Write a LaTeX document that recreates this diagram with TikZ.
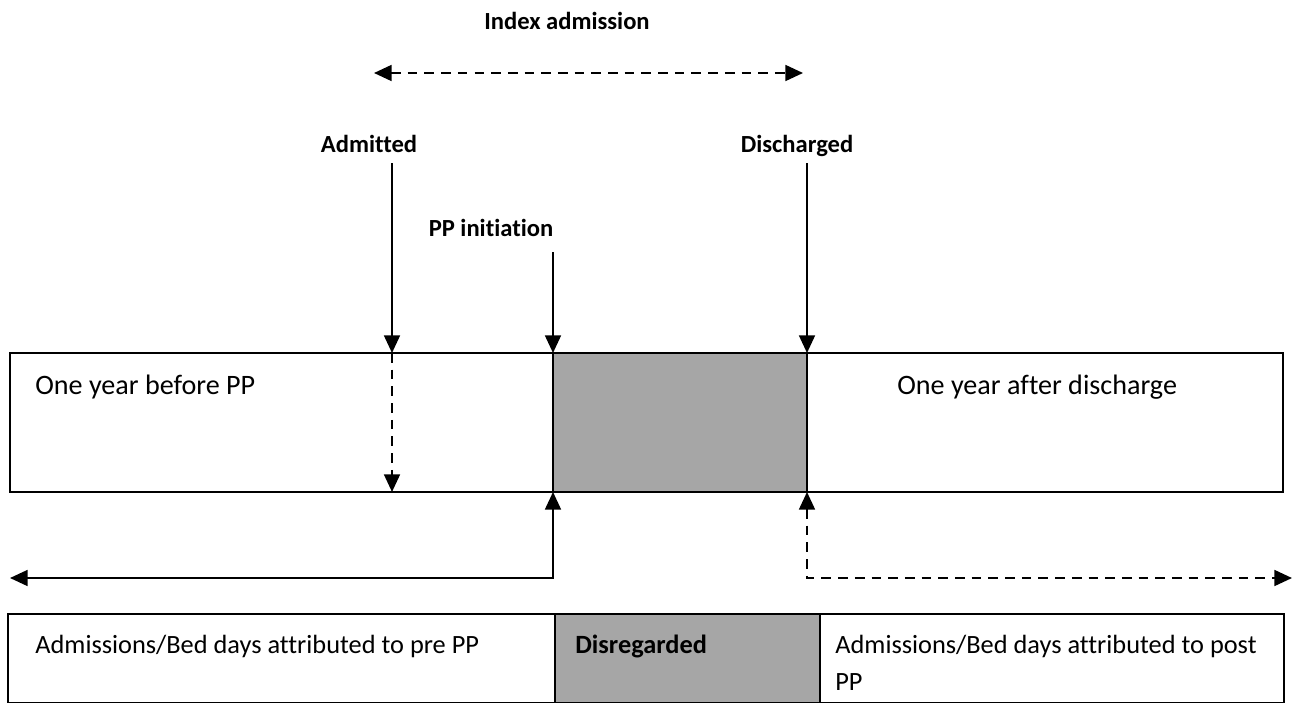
\documentclass[tikz,border=0pt]{standalone}
\usepackage{fontspec}
\setmainfont{Carlito}[Ligatures=NoCommon]
\usetikzlibrary{arrows,arrows.meta}
\usetikzlibrary{positioning}

\definecolor{shade}{HTML}{A6A6A6}

\tikzset{
  lbl/.style={font=\bfseries\fontsize{14}{17}\selectfont, anchor=base, inner sep=0pt},
  boxtxt/.style={font=\fontsize{16}{19}\selectfont, anchor=base west, inner sep=0pt},
  tbltxt/.style={font=\fontsize{15}{22}\selectfont, anchor=base west, inner sep=0pt, align=left},
  cell/.style={draw, line width=1.1pt, anchor=north west, inner sep=0pt, outer sep=0pt},
  arr/.style={line width=1.2pt, -{Triangle[length=10pt,width=9pt]}},
  dashline/.style={dash pattern=on 5.5pt off 4pt}
}

\begin{document}
\begin{tikzpicture}[x=0.02cm,y=-0.02cm]
    \useasboundingbox (0,0) rectangle (1295,703);
    % time line
    \node[cell, minimum width=10.86cm, minimum height=2.78cm] (pre) at (10,353) {};
    \node[cell, fill=shade, minimum width=5.08cm, minimum height=2.78cm] (gap) at (553,353) {};
    \node[cell, minimum width=9.52cm, minimum height=2.78cm] (post) at (807,353) {};
    \node[boxtxt] (pretxt) at (35,394) {One year before PP};
    \node[boxtxt] (posttxt) at (897,394) {One year after discharge};

    % events
    \coordinate (tA) at (392,353);
    \coordinate (tP) at (553,353);
    \coordinate (tD) at (807,353);
    \node[lbl] (index) at (567,30) {Index admission};
    \node[lbl] (adm) at (369,152) {Admitted};
    \node[lbl] (dis) at (797,152) {Discharged};
    \node[lbl] (init) at (491,236) {PP initiation};
    \coordinate (iL) at (374,73);
    \coordinate (iR) at (803,73);
    \draw[arr, dashline, {Triangle[length=10pt,width=9pt]}-{Triangle[length=10pt,width=9pt]}] (iL) -- (iR);
    \draw[arr] (tA |- 0,163) -- (tA);
    \draw[arr] (tD |- 0,163) -- (tD);
    \draw[arr] (tP |- 0,252) -- (tP);
    \draw[arr, dashline] (tA) -- (tA |- pre.south);

    % attribution
    \coordinate (preEnd) at (10,578);
    \coordinate (postEnd) at (1292,578);
    \draw[arr, {Triangle[length=10pt,width=9pt]}-{Triangle[length=10pt,width=9pt]}] (preEnd) -- (tP |- preEnd) -- (tP |- pre.south);
    \draw[arr, dashline, {Triangle[length=10pt,width=9pt]}-{Triangle[length=10pt,width=9pt]}] (tD |- post.south) -- (tD |- postEnd) -- (postEnd);

    % table
    \node[cell, minimum width=10.94cm, minimum height=1.78cm] (tpre) at (8,614) {};
    \node[cell, fill=shade, minimum width=5.3cm, minimum height=1.78cm] (tgap) at (555,614) {};
    \node[cell, minimum width=9.28cm, minimum height=1.78cm] (tpost) at (820,614) {};
    \node[tbltxt] (tpretxt) at (35,653) {Admissions/Bed days attributed to pre PP};
    \node[tbltxt, font=\bfseries\fontsize{15}{22}\selectfont] (tgaptxt) at (575,653) {Disregarded};
    \node[tbltxt] (tposttxt) at (835,653) {Admissions/Bed days attributed to post};
    \node[tbltxt] (tposttxt2) at (835,690) {PP};
\end{tikzpicture}
\end{document}
